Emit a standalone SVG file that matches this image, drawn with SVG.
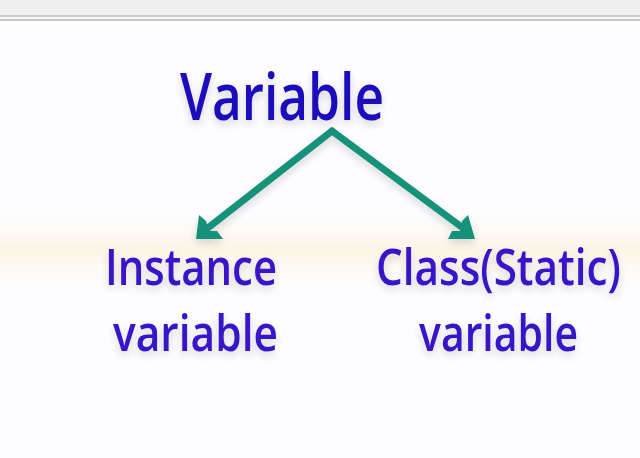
<svg xmlns="http://www.w3.org/2000/svg" width="640" height="458" viewBox="0 0 640 458">
<defs>
<style>
.t{font-family:"Open Sans","Noto Sans","DejaVu Sans",sans-serif;font-weight:600;}
.main{fill:#1c10bc;font-size:66px;}
.sub{fill:#3912c8;font-size:50px;}
.arr{stroke:#14927a;stroke-width:7;fill:none;stroke-linecap:round;}
.head{fill:#14927a;}
</style>
<linearGradient id="band" x1="0" y1="0" x2="0" y2="1">
<stop offset="0" stop-color="#fffaf0" stop-opacity="0"/>
<stop offset="0.5" stop-color="#fcf5e6"/>
<stop offset="1" stop-color="#fffaf0" stop-opacity="0"/>
</linearGradient>
<filter id="sh" filterUnits="userSpaceOnUse" x="0" y="0" width="640" height="458">
<feGaussianBlur in="SourceAlpha" stdDeviation="4"/>
<feOffset dx="0" dy="4" result="b"/>
<feComponentTransfer><feFuncA type="linear" slope="0.16"/></feComponentTransfer>
<feMerge><feMergeNode/><feMergeNode in="SourceGraphic"/></feMerge>
</filter>
</defs>
<rect width="640" height="458" fill="#fdfcfe"/>
<rect x="0" y="215" width="640" height="70" fill="url(#band)"/>
<rect x="0" y="0" width="640" height="15" fill="#f0f0f0"/>
<rect x="0" y="15" width="640" height="2" fill="#cacaca"/>
<rect x="0" y="17" width="640" height="2" fill="#f6f6f6"/>
<rect x="0" y="19" width="640" height="2" fill="#c8c8c8"/>
<g id="connectors" filter="url(#sh)">
<path class="arr" d="M332,131 L204,231"/>
<path class="head" d="M196,239 L199,215 L206,221 L209,231 L217,231 L223,239 Z"/>
<path class="arr" d="M332,131 L467,231"/>
<path class="head" d="M475,239 L468,215 L462,221 L460,231 L452,231 L448,239 Z"/>
</g>
<g id="variable" filter="url(#sh)">
<text class="t main" x="180" y="120" textLength="204" lengthAdjust="spacingAndGlyphs">Variable</text>
</g>
<g id="instance" filter="url(#sh)">
<text class="t sub" x="105" y="285" textLength="172" lengthAdjust="spacingAndGlyphs">Instance</text>
<text class="t sub" x="113" y="351" textLength="165" lengthAdjust="spacingAndGlyphs">variable</text>
</g>
<g id="class" filter="url(#sh)">
<text class="t sub" transform="translate(376,285) scale(1,1.136)" x="0" y="0" style="font-size:44px" textLength="245" lengthAdjust="spacingAndGlyphs">Class(Static)</text>
<text class="t sub" x="419" y="351" textLength="159" lengthAdjust="spacingAndGlyphs">variable</text>
</g>
</svg>
